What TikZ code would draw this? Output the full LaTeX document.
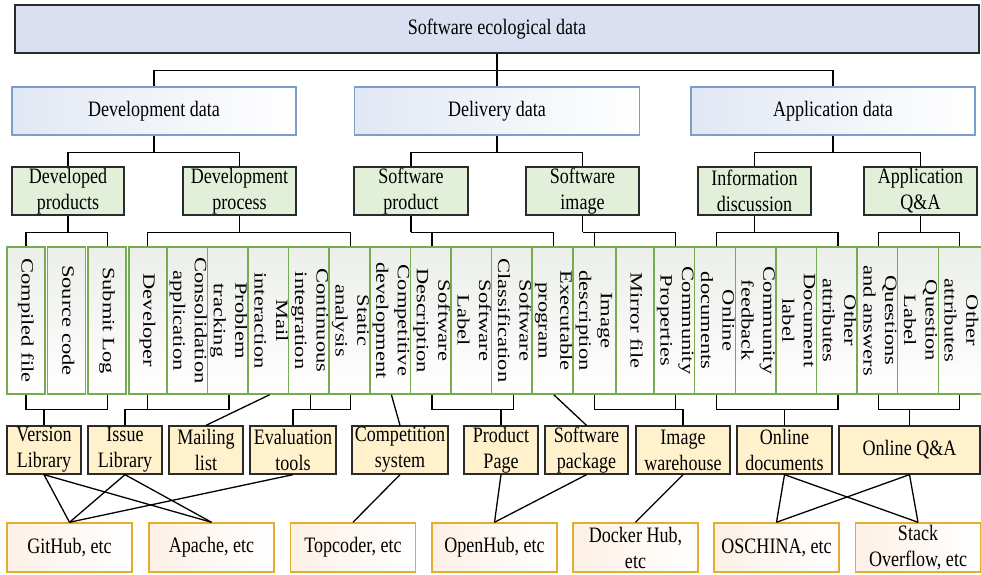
\documentclass[tikz,border=0pt]{standalone}
\usepackage{fontspec}
\setmainfont{Liberation Serif}
\newfontfamily\narrowserif{Liberation Serif}[FakeStretch=0.82]
\newcommand{\hfnt}{\narrowserif\fontsize{22}{26}\selectfont}
% upright text for the tall columns, squeezed across the line height
\newcommand{\vlabel}[1]{\scalebox{1}[0.77]{\fontsize{22.5}{28}\selectfont\begin{tabular}{@{}c@{}}#1\end{tabular}}}

\definecolor{topfill}{HTML}{DAE0F2}
\definecolor{blueedge}{HTML}{7A9FCC}
\definecolor{bluetint}{HTML}{E1E7F3}
\definecolor{greenfill}{HTML}{E2EFD9}
\definecolor{greenedge}{HTML}{76AC4F}
\definecolor{greytint}{HTML}{EBEEE9}
\definecolor{orangefill}{HTML}{FFF1CC}
\definecolor{goldedge}{HTML}{E4AD2C}
\definecolor{peachtint}{HTML}{FDF0E5}
\definecolor{darkedge}{HTML}{2B2B2B}

\tikzset{
  box/.style={inner sep=0pt, align=center, font=\hfnt},
  rootbox/.style={box, draw=darkedge, line width=1.3pt, fill=topfill,
    minimum width=964pt, minimum height=48pt},
  areabox/.style={box, draw=blueedge, line width=1.6pt, left color=bluetint, right color=white,
    minimum width=284pt, minimum height=48pt},
  kindbox/.style={box, draw=darkedge, line width=1.3pt, fill=greenfill,
    minimum width=113pt, minimum height=48pt},
  itembox/.style={inner sep=0pt, draw=greenedge, line width=1.5pt, top color=greytint, bottom color=white,
    rotate=-90, minimum width=147pt, minimum height=38pt},
  sourcebox/.style={box, draw=darkedge, line width=1.3pt, fill=orangefill, minimum height=48pt},
  sitebox/.style={box, draw=goldedge, line width=1.5pt, left color=peachtint, right color=white,
    minimum width=125pt, minimum height=49pt},
  link/.style={draw=black, line width=1.3pt}
}

\begin{document}
\begin{tikzpicture}[x=1pt, y=-1pt]
\useasboundingbox (0,0) rectangle (981,574);

% root
\node[rootbox] (top) at (497,29) {Software ecological data};

% data areas
\node[areabox] (dev) at (154,111) {Development data};
\node[areabox, minimum width=285pt] (del) at (497,111) {Delivery data};
\node[areabox] (app) at (833,111) {Application data};

% data kinds
\node[kindbox, minimum width=112pt] (dprod) at (68,191) {Developed\\products};
\node[kindbox] (dproc) at (239.5,191) {Development\\process};
\node[kindbox, minimum width=114pt] (sprod) at (411,191) {Software\\product};
\node[kindbox] (simg) at (582.5,191) {Software\\image};
\node[kindbox] (info) at (754.5,191) {Information\\discussion};
\node[kindbox] (appqa) at (920.5,191) {Application\\Q\&A};

% data items (rotated clockwise: west is the top end, east the bottom end)
\foreach \i/\t in {
  0/{Compiled file}, 1/{Source code}, 2/{Submit Log}, 3/{Developer},
  4/{Consolidation\\application}, 5/{Problem\\tracking}, 6/{Mail\\interaction},
  7/{Continuous\\integration}, 8/{Static\\analysis}, 9/{Competitive\\development},
  10/{Software\\Description}, 11/{Software\\Label}, 12/{Software\\Classification},
  13/{Executable\\program}, 14/{Image\\description}, 15/{Mirror file},
  16/{Community\\Properties}, 17/{Online\\documents}, 18/{Community\\feedback},
  19/{Document\\label}, 20/{Other\\attributes}, 21/{Questions\\and answers},
  22/{Question\\Label}, 23/{Other\\attributes}}
  \node[itembox] (c\i) at ({26+40.6*\i},320.5) {\vlabel{\t}};

% data sources
\node[sourcebox, minimum width=74pt] (vl) at (44,450) {Version\\Library};
\node[sourcebox, minimum width=74pt] (il) at (125,450) {Issue\\Library};
\node[sourcebox, minimum width=74pt] (ml) at (206,450) {Mailing\\list};
\node[sourcebox, minimum width=86pt] (et) at (293,450) {Evaluation\\tools};
\node[sourcebox, minimum width=96pt] (cs) at (400,450) {Competition\\system};
\node[sourcebox, minimum width=74pt] (pp) at (501,450) {Product\\Page};
\node[sourcebox, minimum width=83pt] (sp) at (586.5,450) {Software\\package};
\node[sourcebox, minimum width=94pt] (iw) at (683,450) {Image\\warehouse};
\node[sourcebox, minimum width=95pt] (od) at (784.5,450) {Online\\documents};
\node[sourcebox, minimum width=141pt] (oq) at (909.5,450) {Online Q\&A};

% sites
\node[sitebox] (gh) at (69.5,547.5) {GitHub, etc};
\node[sitebox] (ap) at (211.5,547.5) {Apache, etc};
\node[sitebox] (tc) at (353,547.5) {Topcoder, etc};
\node[sitebox] (oh) at (494.5,547.5) {OpenHub, etc};
\node[sitebox] (dh) at (635.5,547.5) {Docker Hub,\\etc};
\node[sitebox] (os) at (776.5,547.5) {OSCHINA, etc};
\node[sitebox] (so) at (918,547.5) {Stack\\Overflow, etc};

% root to areas
\draw[link] (top.south) -- ++(0,17) coordinate (h0);
\foreach \n in {dev,del,app} \draw[link] (\n.north) |- (h0);

% areas to kinds
\draw[link] (dev.south) -- ++(0,17) coordinate (h1);
\draw[link] (dprod.north) |- (h1);
\draw[link] (dproc.north) |- (h1);
\draw[link] (del.south) -- ++(0,17) coordinate (h2);
\draw[link] (sprod.north) |- (h2);
\draw[link] (simg.north) |- (h2);
\draw[link] (app.south) -- ++(0,17) coordinate (h3);
\draw[link] (info.north) |- (h3);
\draw[link] (appqa.north) |- (h3);

% kinds to items
\foreach \p/\a/\b in {dprod/0/2, dproc/3/8, sprod/10/13, simg/14/16, info/17/20, appqa/21/23} {
  \draw[link] (\p.south) -- ++(0,16.5) coordinate (k-\p);
  \draw[link] (c\a.west) |- (k-\p);
  \draw[link] (c\b.west) |- (k-\p);
}

% items to sources
\foreach \s/\a/\b in {vl/0/2, il/3/5, et/7/8, pp/10/12, iw/14/16, od/17/20, oq/21/23} {
  \draw[link] (\s.north) -- ++(0,-16) coordinate (g-\s);
  \draw[link] (c\a.east) |- (g-\s);
  \draw[link] (c\b.east) |- (g-\s);
}
\draw[link] (c6.east) -- (ml.north);
\draw[link] (c9.east) -- (cs.north);
\draw[link] (c13.east) -- (sp.north);

% sources to sites
\foreach \s/\t in {vl/gh, vl/ap, il/gh, il/ap, et/gh, cs/tc, pp/oh, sp/oh,
                   iw/dh, od/os, od/so, oq/os, oq/so}
  \draw[link] (\s.south) -- (\t.north);
\end{tikzpicture}
\end{document}
